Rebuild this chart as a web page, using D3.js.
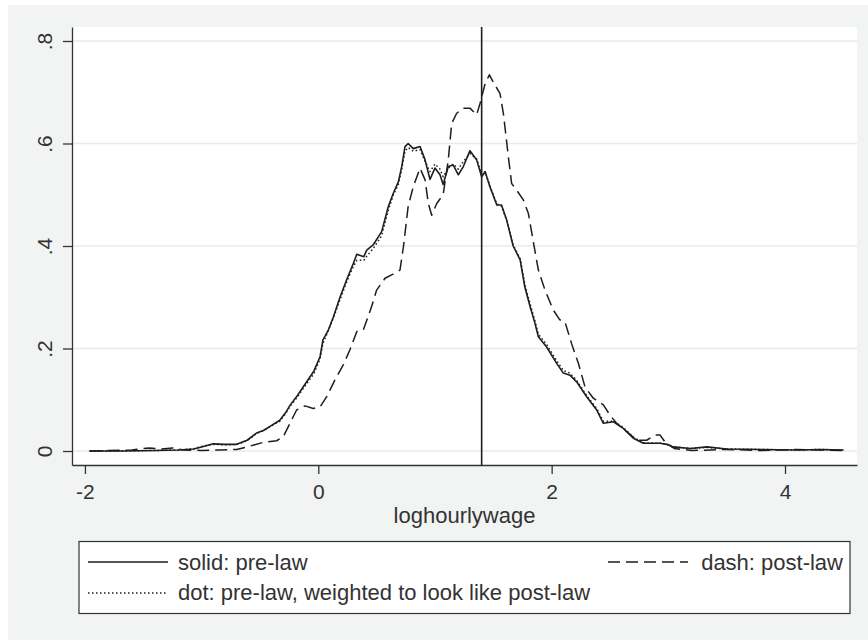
<!DOCTYPE html>
<html>
<head>
<meta charset="utf-8">
<script src="https://cdn.jsdelivr.net/npm/d3@7"></script>
<style>
    body { margin: 0; background: #ffffff; }
    svg { display: block; font-family: "Liberation Sans", Arial, sans-serif; }
</style>
</head>
<body>
<svg id="chart" width="868" height="640"></svg>
<script>
// Densidades de log(salario por hora): antes de la ley, después, y antes reponderado

// Curva sólida: pre-law
const preX = [-1.96, -1.7, -1.4, -1.2, -1.07, -1.0, -0.9, -0.8, -0.7, -0.61, -0.53, -0.47, -0.4, -0.33,
    -0.28, -0.24, -0.18, -0.13, -0.04, 0.015, 0.04, 0.086, 0.13, 0.186, 0.243, 0.3, 0.33, 0.39, 0.415,
    0.47, 0.543, 0.6, 0.643, 0.686, 0.715, 0.743, 0.77, 0.814, 0.872, 0.915, 0.957, 1.0, 1.043, 1.07,
    1.114, 1.157, 1.2, 1.243, 1.3, 1.357, 1.4, 1.43, 1.47, 1.53, 1.57, 1.614, 1.67, 1.73, 1.77, 1.815,
    1.857, 1.886, 1.957, 2.043, 2.1, 2.157, 2.214, 2.3, 2.386, 2.443, 2.53, 2.614, 2.7, 2.786, 2.93,
    2.99, 3.04, 3.19, 3.33, 3.5, 3.8, 4.1, 4.3, 4.5];
const preY = [0.000, 0.000, 0.001, 0.002, 0.004, 0.008, 0.014, 0.013, 0.013, 0.021, 0.035, 0.040, 0.050, 0.060,
    0.075, 0.090, 0.108, 0.125, 0.155, 0.184, 0.217, 0.236, 0.262, 0.300, 0.334, 0.366, 0.384, 0.379, 0.392,
    0.402, 0.428, 0.477, 0.503, 0.525, 0.555, 0.594, 0.600, 0.590, 0.594, 0.568, 0.530, 0.552, 0.539, 0.520,
    0.555, 0.558, 0.539, 0.555, 0.586, 0.568, 0.535, 0.545, 0.516, 0.480, 0.480, 0.451, 0.400, 0.373, 0.320, 0.282,
    0.249, 0.223, 0.203, 0.171, 0.152, 0.148, 0.135, 0.106, 0.080, 0.054, 0.057, 0.044, 0.025, 0.015, 0.015,
    0.013, 0.008, 0.005, 0.008, 0.004, 0.003, 0.002, 0.003, 0.002];

// Curva punteada: pre-law reponderado
const dotX = [-1.96, -1.7, -1.4, -1.2, -1.07, -1.0, -0.9, -0.8, -0.7, -0.61, -0.53, -0.47, -0.4, -0.33,
    -0.28, -0.24, -0.18, -0.13, -0.04, 0.015, 0.04, 0.086, 0.13, 0.186, 0.243, 0.3, 0.33, 0.39, 0.415,
    0.47, 0.543, 0.6, 0.643, 0.686, 0.715, 0.743, 0.77, 0.814, 0.872, 0.915, 0.957, 1.0, 1.043, 1.07,
    1.114, 1.157, 1.2, 1.243, 1.3, 1.357, 1.4, 1.43, 1.47, 1.53, 1.57, 1.614, 1.67, 1.73, 1.77, 1.815,
    1.857, 1.886, 1.957, 2.043, 2.1, 2.157, 2.214, 2.3, 2.386, 2.443, 2.53, 2.614, 2.7, 2.786, 2.93,
    2.99, 3.04, 3.19, 3.33, 3.5, 3.8, 4.1, 4.3, 4.5];
const dotY = [0.000, 0.000, 0.001, 0.002, 0.004, 0.009, 0.013, 0.012, 0.013, 0.020, 0.034, 0.040, 0.049, 0.058,
    0.073, 0.088, 0.105, 0.122, 0.150, 0.180, 0.210, 0.235, 0.260, 0.295, 0.330, 0.360, 0.372, 0.372, 0.380,
    0.395, 0.420, 0.470, 0.500, 0.520, 0.550, 0.585, 0.592, 0.585, 0.588, 0.565, 0.545, 0.560, 0.550, 0.535,
    0.552, 0.560, 0.550, 0.565, 0.580, 0.570, 0.540, 0.545, 0.518, 0.482, 0.478, 0.450, 0.402, 0.375, 0.325, 0.287,
    0.254, 0.228, 0.208, 0.176, 0.157, 0.152, 0.138, 0.108, 0.083, 0.058, 0.058, 0.046, 0.027, 0.016, 0.015,
    0.012, 0.008, 0.005, 0.007, 0.004, 0.003, 0.002, 0.003, 0.002];

// Curva discontinua: post-law
const postX = [-1.96, -1.6, -1.45, -1.35, -1.25, -1.15, -1.0, -0.84, -0.7, -0.61, -0.47, -0.357, -0.3,
    -0.243, -0.186, -0.114, -0.043, 0.015, 0.072, 0.143, 0.214, 0.27, 0.33, 0.386, 0.457, 0.5, 0.572,
    0.64, 0.7, 0.73, 0.77, 0.814, 0.872, 0.915, 0.943, 0.972, 1.015, 1.07, 1.114, 1.143, 1.186, 1.243,
    1.3, 1.357, 1.386, 1.43, 1.466, 1.514, 1.557, 1.586, 1.629, 1.657, 1.7, 1.757, 1.8, 1.83, 1.886,
    1.943, 2.014, 2.07, 2.114, 2.17, 2.229, 2.286, 2.357, 2.443, 2.5, 2.557, 2.643, 2.73, 2.814, 2.886,
    2.93, 2.97, 3.05, 3.2, 3.5, 3.8, 4.1, 4.5];
const postY = [0.000, 0.002, 0.006, 0.004, 0.006, 0.002, 0.001, 0.002, 0.003, 0.008, 0.017, 0.020, 0.028,
    0.054, 0.080, 0.088, 0.083, 0.086, 0.106, 0.139, 0.168, 0.197, 0.233, 0.236, 0.282, 0.314, 0.337,
    0.345, 0.353, 0.399, 0.477, 0.516, 0.552, 0.529, 0.483, 0.460, 0.483, 0.500, 0.568, 0.639, 0.659, 0.669,
    0.669, 0.656, 0.678, 0.717, 0.734, 0.714, 0.698, 0.659, 0.574, 0.522, 0.509, 0.490, 0.464, 0.425, 0.353,
    0.314, 0.275, 0.256, 0.252, 0.210, 0.171, 0.125, 0.103, 0.090, 0.070, 0.054, 0.038, 0.021, 0.021, 0.031,
    0.031, 0.018, 0.005, 0.001, 0.003, 0.001, 0.003, 0.001];

// Ticks y línea vertical
const xTicks = [-2, 0, 2, 4];
const yTicks = [0, 0.2, 0.4, 0.6, 0.8];
const vLineX = 1.40;

const legendItems = [
    { label: "solid: pre-law", dash: null, row: 0, col: 0 },
    { label: "dash: post-law", dash: "12,6", row: 0, col: 1 },
    { label: "dot: pre-law, weighted to look like post-law", dash: "1.5,2.5", row: 1, col: 0 }
];

const svg = d3.select("#chart");
const ink = "#1e1e1e";
const textColor = "#333333";

// Fondo gris de la figura
svg.append("rect")
    .attr("x", 8).attr("y", 5)
    .attr("width", 860).attr("height", 635)
    .attr("fill", "#f2f4f4");

// Área de trazado
const plot = { left: 72, right: 857, top: 27, bottom: 465 };

svg.append("rect")
    .attr("x", plot.left).attr("y", plot.top)
    .attr("width", plot.right - plot.left)
    .attr("height", plot.bottom - plot.top)
    .attr("fill", "#ffffff");

const x = d3.scaleLinear().domain([-2.111, 4.617]).range([plot.left, plot.right]);
const y = d3.scaleLinear().domain([-0.0273, 0.8273]).range([plot.bottom, plot.top]);

// Líneas de cuadrícula
svg.selectAll(".grid")
    .data(yTicks)
    .enter()
    .append("line")
    .attr("class", "grid")
    .attr("x1", plot.left).attr("x2", plot.right)
    .attr("y1", d => y(d)).attr("y2", d => y(d))
    .attr("stroke", "#eaeaea")
    .attr("stroke-width", 1.5);

// Ejes
const xAxis = svg.append("g")
    .attr("transform", `translate(0,${plot.bottom})`)
    .call(d3.axisBottom(x).tickValues(xTicks).tickFormat(d => String(d)).tickSize(9).tickSizeOuter(0).tickPadding(10));

const yAxis = svg.append("g")
    .attr("transform", `translate(${plot.left},0)`)
    .call(d3.axisLeft(y).tickValues(yTicks)
        .tickFormat(d => d === 0 ? "0" : d3.format(".1f")(d).replace(/^0/, ""))
        .tickSize(9).tickSizeOuter(0));

[xAxis, yAxis].forEach(ax => {
    ax.select(".domain").attr("stroke", "#333").attr("stroke-width", 1.3);
    ax.selectAll(".tick line").attr("stroke", "#333").attr("stroke-width", 1.3);
    ax.selectAll("text")
        .attr("fill", textColor)
        .style("font-size", "21px")
        .style("font-family", "'Liberation Sans', Arial, sans-serif");
});

// Etiquetas del eje y giradas
yAxis.selectAll(".tick text")
    .attr("transform", "rotate(-90)")
    .attr("x", 0)
    .attr("y", -20)
    .attr("dy", 0)
    .attr("text-anchor", "middle");

// Título del eje x
svg.append("text")
    .attr("x", (plot.left + plot.right) / 2)
    .attr("y", 523)
    .attr("text-anchor", "middle")
    .attr("fill", textColor)
    .style("font-size", "22px")
    .text("loghourlywage");

// Curvas
const line = d3.line()
    .x(d => x(d[0]))
    .y(d => y(d[1]));

function drawCurve(xs, ys, dash, width) {
    const pts = xs.map((v, i) => [v, ys[i]]);
    svg.append("path")
        .datum(pts)
        .attr("d", line)
        .attr("fill", "none")
        .attr("stroke", ink)
        .attr("stroke-width", width)
        .attr("stroke-linejoin", "round")
        .attr("stroke-dasharray", dash);
}

drawCurve(postX, postY, "12,6", 1.5);
drawCurve(dotX, dotY, "1.5,2.5", 1.5);
drawCurve(preX, preY, null, 1.6);

// Línea vertical
svg.append("line")
    .attr("x1", x(vLineX)).attr("x2", x(vLineX))
    .attr("y1", plot.top).attr("y2", plot.bottom)
    .attr("stroke", ink)
    .attr("stroke-width", 1.6);

// Leyenda
const legend = svg.append("g");
legend.append("rect")
    .attr("x", 79).attr("y", 541.5)
    .attr("width", 771).attr("height", 72)
    .attr("fill", "#ffffff")
    .attr("stroke", "#333")
    .attr("stroke-width", 1.2);

const rowY = [562, 593];
const textY = [570, 600];

legendItems.forEach(item => {
    const x0 = item.col === 0 ? 88 : 608;
    legend.append("line")
        .attr("x1", x0).attr("x2", x0 + 80)
        .attr("y1", rowY[item.row]).attr("y2", rowY[item.row])
        .attr("stroke", ink)
        .attr("stroke-width", 1.5)
        .attr("stroke-dasharray", item.dash);
    legend.append("text")
        .attr("x", item.col === 0 ? 178 : 843)
        .attr("y", textY[item.row])
        .attr("text-anchor", item.col === 0 ? "start" : "end")
        .attr("fill", textColor)
        .style("font-size", "22px")
        .text(item.label);
});
</script>
</body>
</html>
